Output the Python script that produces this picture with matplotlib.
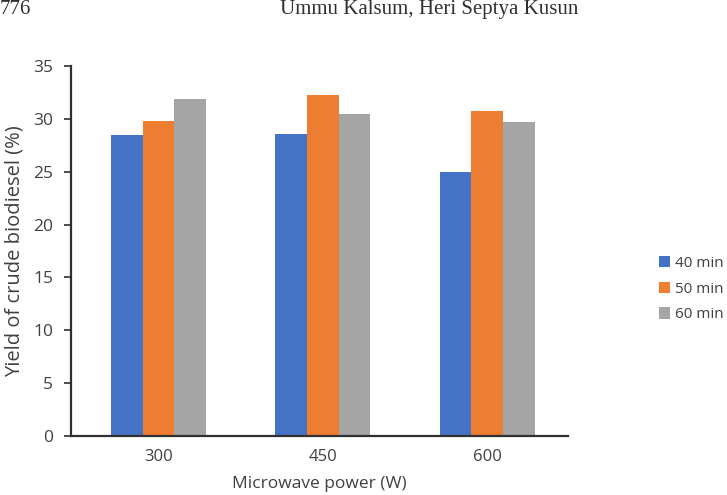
import numpy as np
from matplotlib import pyplot as plt

plt.rcParams['font.family'] = ['Open Sans', 'DejaVu Sans']

powers = ["300", "450", "600"]
times = ["40 min", "50 min", "60 min"]
yield_40 = [28.5, 28.6, 25.0]
yield_50 = [29.8, 32.2, 30.7]
yield_60 = [31.9, 30.4, 29.7]
colors = ["#4472C4", "#ED7D31", "#A5A5A5"]

fig = plt.figure(figsize=(7.27, 4.95), dpi=100)
ax = fig.add_axes([0.098, 0.119, 0.683, 0.748])

x = np.arange(len(powers))
w = 0.193
for i, (vals, lab) in enumerate(zip([yield_40, yield_50, yield_60], times)):
    ax.bar(x + (i - 1) * w, vals, w, color=colors[i], label=lab)

ax.set_xlim(-0.53, 2.49)
ax.set_ylim(0, 35)
ax.set_yticks(range(0, 36, 5))
ax.set_xticks(x, powers)
ax.tick_params(axis='x', length=0, pad=9, labelsize=12, labelcolor="#404040")
ax.tick_params(axis='y', length=5, width=1.3, color="#404040", pad=8,
               labelsize=12.5, labelcolor="#404040")
for s in ["top", "right"]:
    ax.spines[s].set_visible(False)
for s in ["left", "bottom"]:
    ax.spines[s].set_linewidth(1.6)
    ax.spines[s].set_color("#303030")

ax.set_ylabel("Yield of crude biodiesel (%)", fontsize=14.5, color="#404040", labelpad=6)
ax.set_xlabel("Microwave power (W)", fontsize=12.5, color="#404040", labelpad=8)

ax.legend(loc="center left", bbox_to_anchor=(1.155, 0.397), frameon=False,
          fontsize=11, handlelength=0.75, handleheight=0.75, handletextpad=0.35,
          labelspacing=0.7, labelcolor="#404040")

fig.text(0.0, 0.999, "776", fontsize=15, family="Liberation Serif", va="top", color="#303030")
fig.text(0.385, 0.999, "Ummu Kalsum, Heri Septya Kusun", fontsize=15,
         family="Liberation Serif", va="top", color="#303030")

plt.savefig("out.png")
